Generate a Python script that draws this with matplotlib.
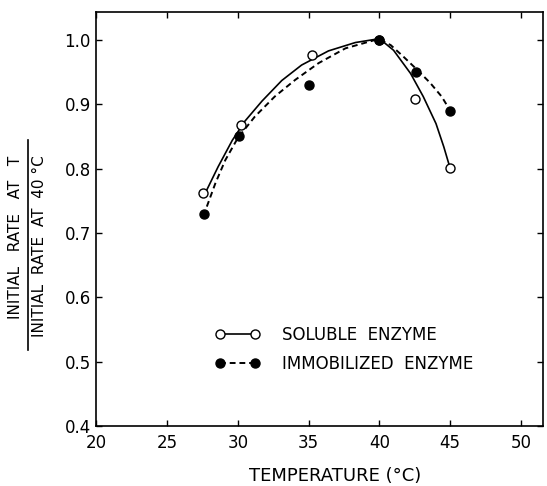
import matplotlib
matplotlib.use("Agg")
import matplotlib.pyplot as plt
from matplotlib.lines import Line2D

# measured points
sol_temp = [27.5, 30.2, 35.2, 40.0, 42.5, 45.0]
sol_rate = [0.762, 0.868, 0.976, 1.0, 0.909, 0.801]
imm_temp = [27.6, 30.05, 35.05, 40.0, 42.6, 45.0]
imm_rate = [0.730, 0.850, 0.930, 1.0, 0.950, 0.890]

# hand-drawn fit curves
sol_curve_t = [27.8, 28.6, 29.6, 30.5, 31.7, 33.1, 34.5, 36.4, 38.3, 40.0,
               41.0, 42.2, 43.1, 44.0, 44.55, 44.9]
sol_curve_r = [0.767, 0.803, 0.844, 0.874, 0.905, 0.937, 0.961, 0.983, 0.996, 1.002,
               0.984, 0.948, 0.912, 0.870, 0.834, 0.808]
imm_curve_t = [27.8, 28.4, 29.1, 30.0, 31.2, 32.6, 34.05, 35.7, 37.6, 39.7, 40.0,
               40.8, 41.7, 42.7, 43.6, 44.4, 44.9]
imm_curve_r = [0.741, 0.777, 0.813, 0.848, 0.881, 0.912, 0.938, 0.964, 0.987, 1.0, 1.001,
               0.992, 0.974, 0.953, 0.933, 0.912, 0.894]

xticks = [20, 25, 30, 35, 40, 45, 50]
yticks = [0.4, 0.5, 0.6, 0.7, 0.8, 0.9, 1.0]

plt.rcParams['font.family'] = 'DejaVu Sans'
fig = plt.figure(figsize=(5.47, 4.86), dpi=100)
ax = fig.add_axes([0.1764, 0.1235, 0.8172, 0.8512])

ax.plot(sol_curve_t, sol_curve_r, color='black', lw=1.2)
ax.plot(imm_curve_t, imm_curve_r, color='black', lw=1.4, linestyle=(0, (3, 2)))
ax.plot(sol_temp, sol_rate, 'o', ms=6.5, mfc='white', mec='black', mew=1.0)
ax.plot(imm_temp, imm_rate, 'o', ms=6.5, mfc='black', mec='black')

ax.set_xlim(20, 51.6)
ax.set_ylim(0.4, 1.043)
ax.set_xticks(xticks)
ax.set_yticks(yticks)
ax.set_xticklabels([str(t) for t in xticks])
ax.set_yticklabels(['%.1f' % v for v in yticks])
ax.tick_params(direction='in', length=4, width=1, labelsize=12,
               top=True, right=True)
ax.tick_params(axis='x', pad=6)
ax.tick_params(axis='y', pad=4)
for s in ax.spines.values():
    s.set_linewidth(1.2)

handles = [
    Line2D([], [], color='black', lw=1.2, marker='o', ms=6.5, mfc='white', mec='black'),
    Line2D([], [], color='black', lw=1.4, linestyle=(0, (3, 2)), marker='o', ms=6.5,
           mfc='black', mec='black'),
]
fig.legend(handles, ['SOLUBLE  ENZYME', 'IMMOBILIZED  ENZYME'], loc='center left',
           bbox_to_anchor=(0.393, 0.281), frameon=False, numpoints=2,
           handlelength=2.7, handletextpad=1.3, labelspacing=0.65,
           borderpad=0, borderaxespad=0, prop={'size': 12})

fig.text(335 / 547, 1 - 476 / 486, 'TEMPERATURE (°C)', ha='center', va='center',
         fontsize=13)

# fraction-style y label
fig.text(16 / 547, 1 - 237 / 486, 'INITIAL   RATE   AT   T', rotation=90,
         ha='center', va='center', fontsize=11)
fig.text(40 / 547, 1 - 246 / 486, 'INITIAL  RATE  AT  40 °C', rotation=90,
         ha='center', va='center', fontsize=11)
fig.add_artist(Line2D([27.5 / 547, 27.5 / 547], [1 - 140 / 486, 1 - 350 / 486],
                      color='black', lw=1.2, transform=fig.transFigure))

fig.savefig('out.png', dpi=100)
